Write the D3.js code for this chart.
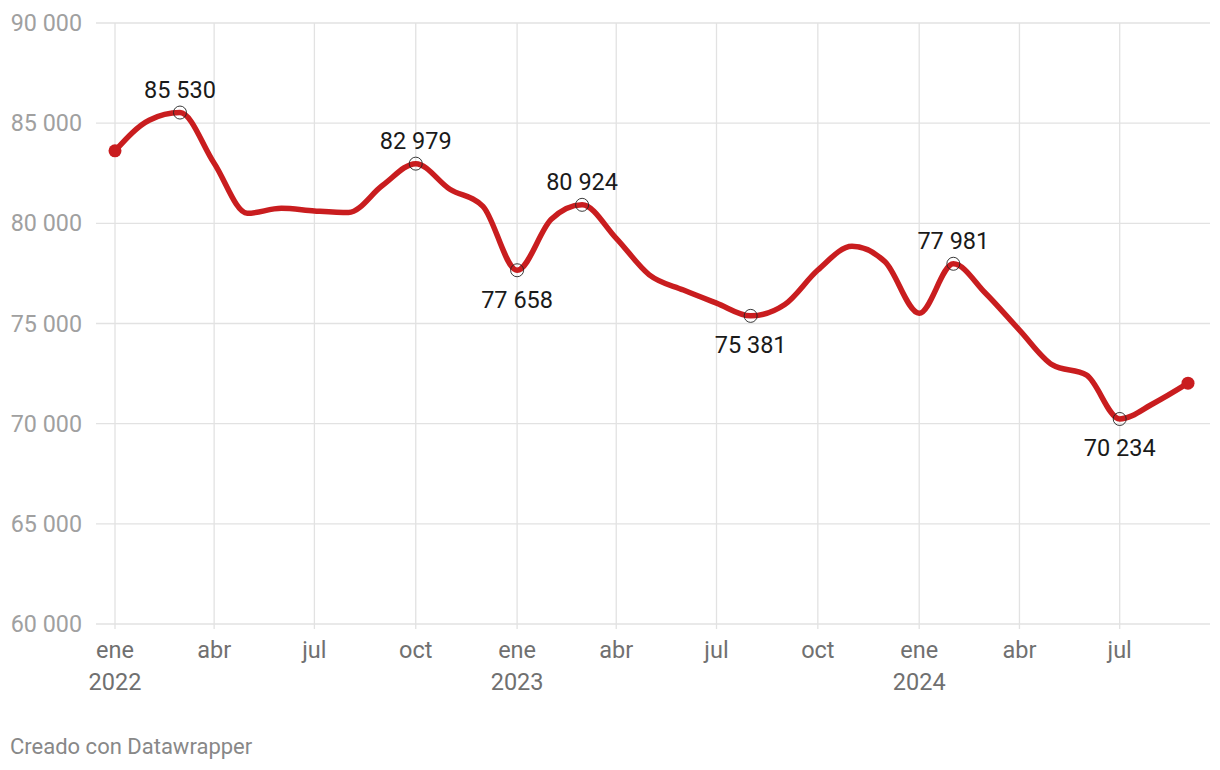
<!DOCTYPE html>
<html>
<head>
<meta charset="utf-8">
<script src="https://cdn.jsdelivr.net/npm/d3@7"></script>
<style>
  html, body { margin: 0; padding: 0; background: #fff; }
  svg { display: block; font-family: Roboto, "Noto Sans", sans-serif; }
</style>
</head>
<body>
<svg id="chart" width="1220" height="770"></svg>
<script>
// ---- data ----
const months = [
  "2022-01","2022-02","2022-03","2022-04","2022-05","2022-06","2022-07","2022-08","2022-09","2022-10","2022-11","2022-12",
  "2023-01","2023-02","2023-03","2023-04","2023-05","2023-06","2023-07","2023-08","2023-09","2023-10","2023-11","2023-12",
  "2024-01","2024-02","2024-03","2024-04","2024-05","2024-06","2024-07","2024-08","2024-09"
];
const values = [
  83620, 85150, 85530, 83000, 80500, 80750, 80620, 80540, 81900, 82979, 81700, 80850,
  77658, 80200, 80924, 79250, 77430, 76670, 76020, 75381, 75950, 77670, 78850, 78080,
  75510, 77981, 76520, 74670, 72930, 72420, 70234, 71020, 72020
];
const annotated = ["2022-03","2022-10","2023-01","2023-03","2023-08","2024-02","2024-07"];
const annotPos = ["above","above","below","above","below","above","below"];
const yTicks = [60000, 65000, 70000, 75000, 80000, 85000, 90000];
const monthNames = ["ene","feb","mar","abr","may","jun","jul","ago","sep","oct","nov","dic"];
const footer = "Creado con Datawrapper";

// ---- setup ----
const svg = d3.select("#chart");
const parse = d3.timeParse("%Y-%m");
const data = months.map((m, i) => ({ date: parse(m), key: m, value: values[i] }));

const x = d3.scaleTime()
  .domain([parse("2022-01"), parse("2024-09")])
  .range([115, 1188]);
const y = d3.scaleLinear().domain([60000, 90000]).range([624, 23]);

const fmt = v => d3.format(",")(v).replace(/,/g, " ");

// gridlines horizontal
svg.append("g").selectAll("line").data(yTicks).join("line")
  .attr("x1", 96).attr("x2", 1210)
  .attr("y1", d => y(d)).attr("y2", d => y(d))
  .attr("stroke", "#e2e2e2").attr("stroke-width", 1.3);

// y labels
svg.append("g").selectAll("text").data(yTicks).join("text")
  .attr("x", 82).attr("y", d => y(d)).attr("dy", "0.35em")
  .attr("text-anchor", "end").attr("fill", "#a0a0a0")
  .attr("font-size", 23.3)
  .text(d => fmt(d));

// vertical gridlines at quarters
const xTicks = d3.timeMonth.every(3).range(parse("2022-01"), parse("2024-09"));
svg.append("g").selectAll("line").data(xTicks).join("line")
  .attr("x1", d => x(d)).attr("x2", d => x(d))
  .attr("y1", 23).attr("y2", 629)
  .attr("stroke", "#e2e2e2").attr("stroke-width", 1.3);

// x labels
const xl = svg.append("g").selectAll("text").data(xTicks).join("text")
  .attr("x", d => x(d)).attr("y", 658)
  .attr("text-anchor", "middle").attr("fill", "#707070").attr("font-size", 23.5);
xl.append("tspan").attr("x", d => x(d)).text(d => monthNames[d.getMonth()]);
xl.filter(d => d.getMonth() === 0).append("tspan")
  .attr("x", d => x(d)).attr("dy", 31.5).text(d => d.getFullYear());

// line
const line = d3.line().x(d => x(d.date)).y(d => y(d.value)).curve(d3.curveMonotoneX);
svg.append("path").datum(data)
  .attr("d", line).attr("fill", "none")
  .attr("stroke", "#c91d1f").attr("stroke-width", 5.5)
  .attr("stroke-linejoin", "round").attr("stroke-linecap", "round");

// end points
svg.append("g").selectAll("circle").data([data[0], data[data.length - 1]]).join("circle")
  .attr("cx", d => x(d.date)).attr("cy", d => y(d.value)).attr("r", 6.5)
  .attr("fill", "#c91d1f");

// annotations
const ann = data.filter(d => annotated.includes(d.key))
  .map(d => ({ ...d, pos: annotPos[annotated.indexOf(d.key)] }));
svg.append("g").selectAll("circle").data(ann).join("circle")
  .attr("cx", d => x(d.date)).attr("cy", d => y(d.value)).attr("r", 6.5)
  .attr("fill", "none").attr("stroke", "#222").attr("stroke-width", 0.9);
svg.append("g").selectAll("text").data(ann).join("text")
  .attr("x", d => x(d.date))
  .attr("y", d => y(d.value) + (d.pos === "above" ? -15 : 37.5))
  .attr("text-anchor", "middle").attr("fill", "#1a1a1a").attr("font-size", 23.5)
  .text(d => fmt(d.value));

// footer
svg.append("text").attr("x", 10).attr("y", 754)
  .attr("fill", "#888").attr("font-size", 22).text(footer);
</script>
</body>
</html>
